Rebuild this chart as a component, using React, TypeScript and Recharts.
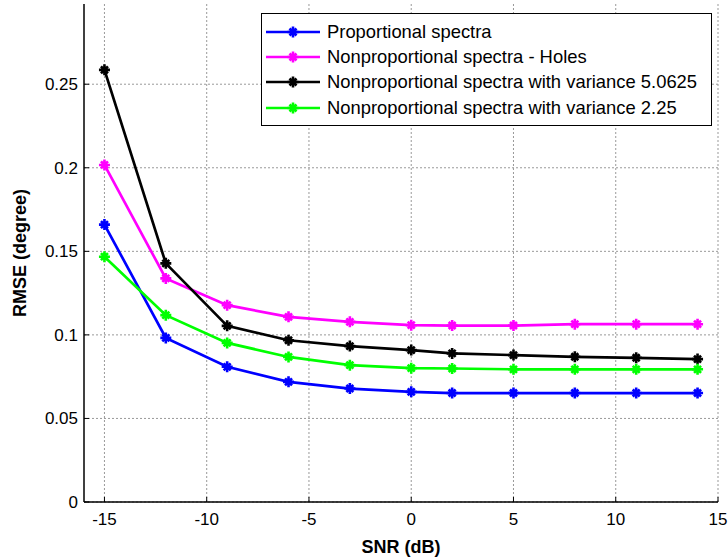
import { LineChart, Line, XAxis, YAxis, CartesianGrid, Legend } from 'recharts'

const snr = [-15, -12, -9, -6, -3, 0, 2, 5, 8, 11, 14]
const proportional = [0.166, 0.0982, 0.0809, 0.0719, 0.0679, 0.0659, 0.0652, 0.0652, 0.0652, 0.0652, 0.0652]
const holes = [0.2017, 0.1338, 0.1178, 0.1108, 0.1078, 0.1058, 0.1056, 0.1056, 0.1064, 0.1064, 0.1064]
const var50625 = [0.2586, 0.1428, 0.1054, 0.0968, 0.0933, 0.0909, 0.0889, 0.0879, 0.0869, 0.0863, 0.0855]
const var225 = [0.1468, 0.1118, 0.0952, 0.0868, 0.0819, 0.0801, 0.0799, 0.0794, 0.0794, 0.0794, 0.0794]

const xTicks = [-15, -10, -5, 0, 5, 10, 15]
const yTicks = [0, 0.05, 0.1, 0.15, 0.2, 0.25]

const series = [
  { key: 'prop', name: 'Proportional spectra', color: '#0000ff' },
  { key: 'holes', name: 'Nonproportional spectra - Holes', color: '#ff00ff' },
  { key: 'v5', name: 'Nonproportional spectra with variance 5.0625', color: '#000000' },
  { key: 'v2', name: 'Nonproportional spectra with variance 2.25', color: '#00ff00' },
]

const data = snr.map((x, i) => ({
  snr: x,
  prop: proportional[i],
  holes: holes[i],
  v5: var50625[i],
  v2: var225[i],
}))

const FONT = '"Liberation Sans", Arial, sans-serif'

// matlab-ish '*' marker drawn thick
function Star({ cx, cy, color }: { cx: number; cy: number; color: string }) {
  const a = 5.5
  const b = 3.5
  return (
    <g>
      <path
        d={`M${cx - a},${cy}H${cx + a}M${cx},${cy - a}V${cy + a}M${cx - b},${cy - b}L${cx + b},${cy + b}M${cx - b},${cy + b}L${cx + b},${cy - b}`}
        stroke={color}
        strokeWidth={2.6}
        fill="none"
      />
      <circle cx={cx} cy={cy} r={2.5} fill={color} />
    </g>
  )
}

function LegendBox() {
  return (
    <div
      style={{
        border: '1px solid #000',
        background: '#fff',
        width: 451,
        padding: '5px 0 5px 0',
        fontFamily: FONT,
        fontSize: 18.4,
        boxSizing: 'border-box',
      }}
    >
      {series.map((s) => (
        <div key={s.key} style={{ display: 'flex', alignItems: 'center', height: 25.3 }}>
          <svg width={62} height={20} style={{ flex: 'none' }}>
            <line x1={4} y1={10} x2={58} y2={10} stroke={s.color} strokeWidth={2.5} />
            <Star cx={31} cy={10} color={s.color} />
          </svg>
          <span style={{ marginLeft: 3, color: '#000', whiteSpace: 'nowrap' }}>{s.name}</span>
        </div>
      ))}
    </div>
  )
}

const tickStyle = { fontSize: 17, fill: '#000', fontFamily: FONT }

export default function App() {
  return (
    <div style={{ position: 'absolute', left: 0, top: 0, background: '#fff' }}>
      <LineChart width={728} height={560} data={data} margin={{ top: 4, right: 10, bottom: 0, left: 0 }}>
        <CartesianGrid stroke="#999999" strokeDasharray="2 2" verticalValues={xTicks} horizontalValues={yTicks} />
        <XAxis
          dataKey="snr"
          type="number"
          domain={[-16, 15]}
          ticks={xTicks}
          allowDataOverflow
          height={58}
          axisLine={{ stroke: '#000', strokeWidth: 1.5 }}
          tickLine={{ stroke: '#000' }}
          tickSize={-5}
          tickMargin={16}
          tick={tickStyle}
          label={{ value: 'SNR (dB)', position: 'insideBottom', offset: 7, fontSize: 18, fontWeight: 'bold', fill: '#000', fontFamily: FONT }}
        />
        <XAxis
          xAxisId="top"
          orientation="top"
          dataKey="snr"
          type="number"
          domain={[-16, 15]}
          ticks={xTicks}
          allowDataOverflow
          height={0}
          axisLine={{ stroke: '#000', strokeWidth: 1.5 }}
          tickLine={{ stroke: '#000' }}
          tickSize={-5}
          tickFormatter={() => ''}
        />
        <YAxis
          type="number"
          domain={[0, 0.298]}
          ticks={yTicks}
          allowDataOverflow
          width={84}
          axisLine={{ stroke: '#000', strokeWidth: 1.5 }}
          tickLine={{ stroke: '#000' }}
          tickSize={-5}
          tickMargin={11}
          tick={tickStyle}
          label={{
            content: ({ viewBox }: any) => {
              const cy = viewBox.y + viewBox.height / 2
              return (
                <text
                  x={20}
                  y={cy}
                  transform={`rotate(-90, 20, ${cy})`}
                  textAnchor="middle"
                  dominantBaseline="central"
                  fontSize={18}
                  fontWeight="bold"
                  fontFamily={FONT}
                  fill="#000"
                >
                  RMSE (degree)
                </text>
              )
            },
          }}
        />
        <YAxis
          yAxisId="right"
          orientation="right"
          type="number"
          domain={[0, 0.298]}
          ticks={yTicks}
          allowDataOverflow
          width={0}
          axisLine={{ stroke: '#000', strokeWidth: 1.5 }}
          tickLine={{ stroke: '#000' }}
          tickSize={-5}
          tickFormatter={() => ''}
        />
        <Legend
          layout="vertical"
          align="center"
          verticalAlign="middle"
          wrapperStyle={{ position: 'absolute', left: 261, top: 13, width: 451 }}
          content={() => <LegendBox />}
        />
        {series.map((s) => (
          <Line
            key={s.key}
            dataKey={s.key}
            name={s.name}
            stroke={s.color}
            strokeWidth={2.7}
            isAnimationActive={false}
            dot={(p: any) => <Star key={`${s.key}-${p.index}`} cx={p.cx} cy={p.cy} color={s.color} />}
            activeDot={false}
          />
        ))}
      </LineChart>
    </div>
  )
}
